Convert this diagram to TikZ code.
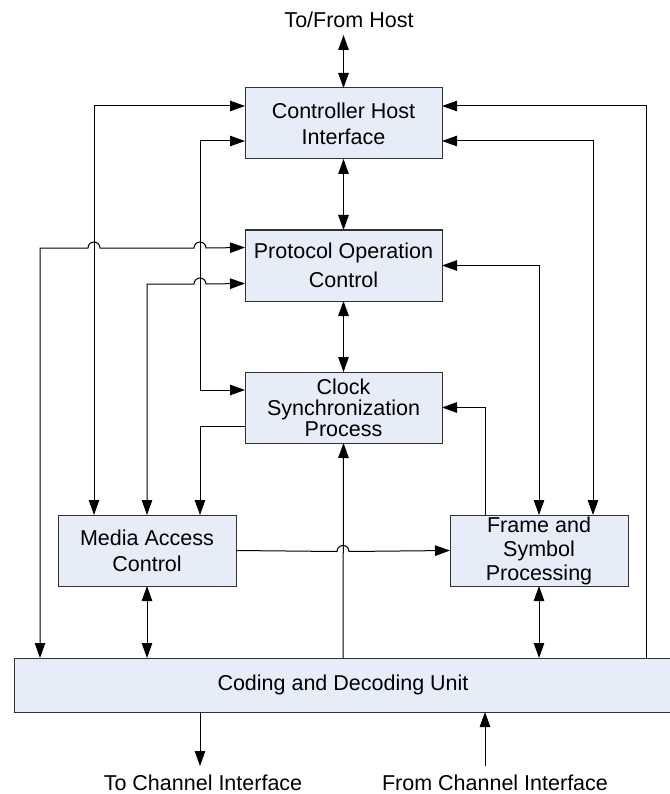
\documentclass[tikz,border=0pt]{standalone}
\usepackage{fontspec}
\setmainfont{Liberation Sans}
\usetikzlibrary{arrows.meta, positioning}
\definecolor{boxfill}{RGB}{230,236,248}
\definecolor{boxline}{RGB}{50,50,50}

\begin{document}
\begin{tikzpicture}[x=1pt, y=1pt, line width=1pt, >={Triangle[length=15pt,width=10.5pt]},
	block/.style={draw=boxline, fill=boxfill, minimum width=197pt, minimum height=71pt, inner sep=0pt, outer sep=0pt, align=center, font=\fontsize{21.5}{26}\selectfont},
	small block/.style={block, minimum width=178pt},
	io text/.style={font=\fontsize{21.5}{26}\selectfont, inner sep=0pt, anchor=base}]
	\useasboundingbox (0,0) rectangle (669,-794);

	\node [block]												(chi) at (343.5,-123.5)				{Controller Host\\Interface};
	\node [block]												(poc) [below=71pt of chi]				{Protocol Operation\\[3pt]Control};
	\node [block, font=\fontsize{21.5}{21}\selectfont]		(csp) [below=71pt of poc]				{Clock\\Synchronization\\Process};
	\node [small block]										(mac) [below left=72pt and 9pt of csp]	{Media Access\\Control};
	\node [small block, font=\fontsize{21.5}{24}\selectfont]	(fsp) [below right=72pt and 8pt of csp]	{Frame and\\Symbol\\Processing};
	\node [block, minimum width=658pt, minimum height=54pt]	(cdu) at (343,-685)					{Coding and Decoding Unit};

	\node [io text] (hostlabel) at (349,-28)  {To/From Host};
	\node [io text] (tolabel)   at (203,-790) {To Channel Interface};
	\node [io text] (fromlabel) at (495,-790) {From Channel Interface};
	\coordinate (host)     at (343.5,-35);
	\coordinate (tochan)   at (200,-766);
	\coordinate (fromchan) at (485,-766);

	\path[<->] (host) edge (host |- chi.north);
	\path[<->] (chi) edge (poc);
	\path[<->] (poc) edge (csp);
	\path[<->] (mac) edge (mac |- cdu.north);
	\path[<->] (fsp) edge (fsp |- cdu.north);
	\path[->] (cdu.north) edge (csp.south);
	\path[->] (cdu.south -| tochan) edge (tochan);
	\path[->] (fromchan) edge (fromchan |- cdu.south);

	\draw[<->] ([yshift=17.5pt]chi.west) -| ([xshift=-53pt]mac.north);
	\draw[<->] ([yshift=-17.5pt]chi.west) -- ++(-45,0) |- ([yshift=17.5pt]csp.west);
	\draw[<->] ([xshift=26pt]cdu.north west) |- (88,-248) arc (180:0:6) -- (194,-248) arc (180:0:6) -- ([yshift=18pt]poc.west);
	\draw[<->] (mac.north) |- (194,-284) arc (180:0:6) -- ([yshift=-18pt]poc.west);
	\draw[->] ([yshift=-18.5pt]csp.west) -| ([xshift=53pt]mac.north);
	\draw[<->] (poc.east) -| (fsp.north);
	\draw[<->] ([yshift=-17.5pt]chi.east) -| ([xshift=54pt]fsp.north);
	\draw[<-] ([yshift=17.5pt]chi.east) -| ([xshift=-26pt]cdu.north east);
	\draw[->] ([xshift=35pt]fsp.north west) |- (csp.east);
	\draw[->] (mac.east) -- (337,-551.5) arc (180:0:6) -- (fsp.west);
\end{tikzpicture}
\end{document}
